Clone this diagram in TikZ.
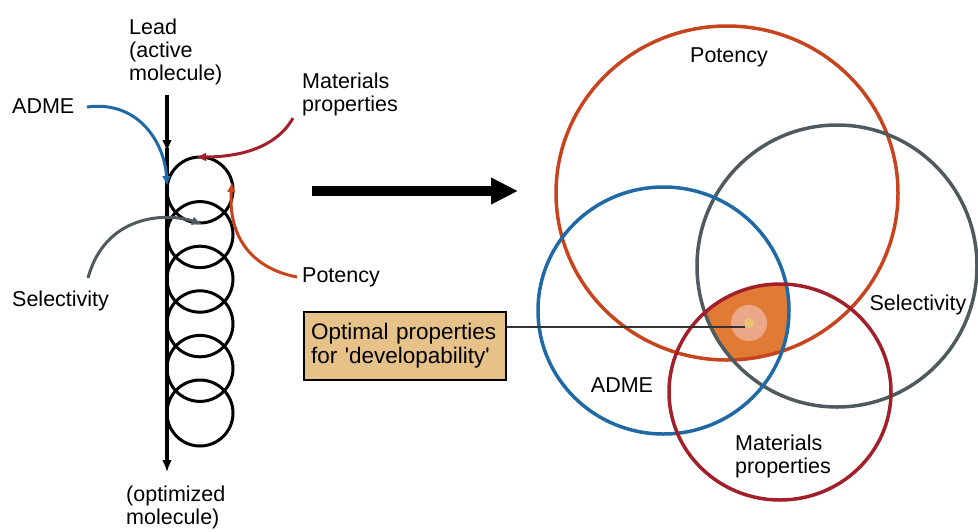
\documentclass[tikz,border=0pt]{standalone}
\usepackage{fontspec}
\setmainfont{Liberation Sans}
\usetikzlibrary{arrows.meta}
\definecolor{cpot}{HTML}{C8441E}
\definecolor{csel}{HTML}{4E5A5E}
\definecolor{cadme}{HTML}{1F6AA6}
\definecolor{cmat}{HTML}{A3202A}
\definecolor{cfill}{HTML}{E07A35}
\definecolor{cpink}{HTML}{EBA888}
\definecolor{cyel}{HTML}{E8C273}
\definecolor{cbox}{HTML}{E6C188}
\tikzset{
  lbl/.style={font=\fontsize{21.5}{23}\selectfont, inner sep=0pt, align=left},
  loopc/.style={draw=black, line width=3pt},
  venn/.style={line width=3.5pt},
  feed/.style={line width=3pt, -{Latex[length=10pt,width=9pt]}},
}
\begin{document}
\begin{tikzpicture}[x=1pt,y=-1pt]
\useasboundingbox (0,0) rectangle (978,531);
% ---------- left panel ----------
\foreach \k in {0,...,5}{
  \draw[loopc] (200,{190+44.6*\k}) circle (33);
}
\draw[line width=4pt,-{Latex[length=12pt,width=10pt]}] (167,95) -- (167,152);
\draw[line width=4pt,-{Latex[length=12pt,width=10pt]}] (167,148) -- (167,472);
\node[lbl, anchor=south west] (lead) at (129,85) {Lead\\(active\\molecule)};
\node[lbl, anchor=north west] (opt) at (126,486) {(optimized\\molecule)};
\node[lbl, anchor=west] (ladme) at (12,106) {ADME};
\node[lbl, anchor=west] (lmat) at (302,94) {Materials\\properties};
\node[lbl, anchor=west] (lpot) at (302,277) {Potency};
\node[lbl, anchor=west] (lsel) at (12,301) {Selectivity};
\coordinate (tadme) at (167,186);
\coordinate (tmat) at (196,157);
\coordinate (tpot) at (232,182);
\coordinate (tsel) at (202,224);
\draw[feed, cadme] (87,107) .. controls (140,100) and (165,145) .. (tadme);
\draw[feed, cmat] (293,118) .. controls (275,150) and (235,157) .. (tmat);
\draw[feed, cpot] (297,277) .. controls (250,268) and (228,235) .. (tpot);
\draw[feed, csel] (88,278) .. controls (105,215) and (165,212) .. (tsel);
% ---------- big arrow ----------
\coordinate (ba1) at (312,191);
\coordinate (ba2) at (518,191);
\draw[line width=10pt,-{Triangle[length=27pt,width=25pt]}] (ba1) -- (ba2);
% ---------- Venn ----------
\coordinate (cP) at (727,193);
\coordinate (cS) at (837,266);
\coordinate (cA) at (663.5,310.5);
\coordinate (cM) at (780,392);
\begin{scope}
  \clip (cP) ellipse (171 and 167);
  \clip (cS) ellipse (140 and 141);
  \clip (cA) ellipse (125.5 and 123.5);
  \clip (cM) ellipse (111 and 108);
  \fill[cfill] (600,250) rectangle (900,420);
  \fill[cpink] (749,323) circle (18);
  \fill[cyel] (749,323) circle (5);
\end{scope}
\draw[venn, cpot] (cP) ellipse (171 and 167);
\draw[venn, csel] (cS) ellipse (140 and 141);
\draw[venn, cadme] (cA) ellipse (125.5 and 123.5);
\draw[venn, cmat] (cM) ellipse (111 and 108);
\node[lbl] (vpot) at (729,57) {Potency};
\node[lbl] (vsel) at (918,305) {Selectivity};
\node[lbl] (vadme) at (622,385) {ADME};
\node[lbl, align=left] (vmat) at (783,456) {Materials\\properties};
% ---------- box ----------
\node[lbl, font=\fontsize{22.5}{24}\selectfont, draw=black, line width=2pt, fill=cbox, minimum width=202pt, minimum height=68pt, inner sep=7pt, anchor=north west, text width=188pt] (box) at (303,311) {Optimal properties\\for \textquotesingle developability\textquotesingle};
\coordinate (opt0) at (745,327);
\draw[line width=2pt, draw=black!80] (box.east |- opt0) -- (opt0);
\end{tikzpicture}
\end{document}
